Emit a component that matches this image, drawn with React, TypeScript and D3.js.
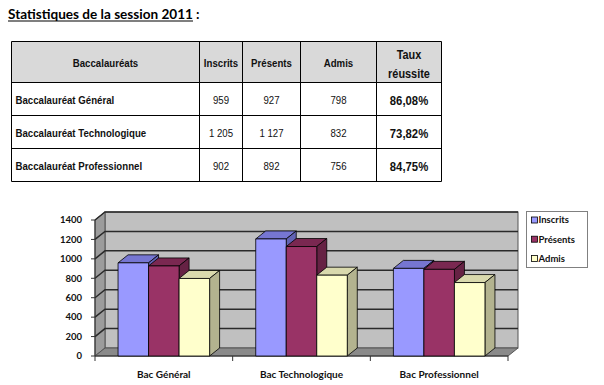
import * as d3 from 'd3';

const categories = ['Bac Général', 'Bac Technologique', 'Bac Professionnel'];
const rowLabels = ['Baccalauréat Général', 'Baccalauréat Technologique', 'Baccalauréat Professionnel'];
const seriesNames = ['Inscrits', 'Présents', 'Admis'];
const inscrits = [959, 1205, 902];
const presents = [927, 1127, 892];
const admis = [798, 832, 756];
const yTicks = [0, 200, 400, 600, 800, 1000, 1200, 1400];
const headers = ['Baccalauréats', 'Inscrits', 'Présents', 'Admis'];

const W = 604;
const H = 385;

const fr = d3.formatLocale({ decimal: ',', thousands: ' ', grouping: [3], currency: ['', ' €'] });
const fmtInt = fr.format(',d');
const fmtPct = fr.format('.2%');

const seriesColors = [
  { front: '#9999ff', top: '#7676d2', side: '#6262b4' },
  { front: '#993366', top: '#7a2851', side: '#662244' },
  { front: '#ffffcc', top: '#d9d9ad', side: '#b3b38f' },
];

// table layout
const colEdges = [11.5, 199.5, 242.5, 300.5, 376.5, 441.5];
const rowEdges = [41.5, 82.5, 115.5, 148.5, 181.5];
const SX = 0.84;

// chart layout
const DX = 10;
const DY = -8;
const plotLeft = 95;
const plotRight = 508;
const floorY = 356;
const topY = 220;

function Txt({ x, y, anchor = 'middle', size = 11.5, weight = 'normal', children }: any) {
  return (
    <text
      transform={`translate(${x},${y}) scale(${SX},1)`}
      textAnchor={anchor}
      fontFamily="'Liberation Sans', Arial, sans-serif"
      fontSize={size}
      fontWeight={weight}
      fill="#111"
    >
      {children}
    </text>
  );
}

function Table() {
  const cx = (i: number) => (colEdges[i] + colEdges[i + 1]) / 2;
  const cy = (i: number) => (rowEdges[i] + rowEdges[i + 1]) / 2;
  const rows = rowLabels.map((label, i) => ({
    label,
    values: [inscrits[i], presents[i], admis[i]],
    taux: admis[i] / presents[i],
  }));
  return (
    <g>
      <rect
        x={colEdges[0]}
        y={rowEdges[0]}
        width={colEdges[5] - colEdges[0]}
        height={rowEdges[1] - rowEdges[0]}
        fill="#d9d9d9"
      />
      {rowEdges.map((y, i) => (
        <line key={`h${i}`} x1={colEdges[0]} x2={colEdges[5]} y1={y} y2={y} stroke="#000" />
      ))}
      {colEdges.map((x, i) => (
        <line key={`v${i}`} x1={x} x2={x} y1={rowEdges[0]} y2={rowEdges[4]} stroke="#000" />
      ))}
      {headers.map((h, i) => (
        <Txt key={h} x={cx(i)} y={cy(0) + 5} weight="bold">
          {h}
        </Txt>
      ))}
      <Txt x={cx(4)} y={59} size={13} weight="bold">Taux</Txt>
      <Txt x={cx(4)} y={77.5} size={13} weight="bold">réussite</Txt>
      {rows.map((r, i) => (
        <g key={r.label}>
          <Txt x={colEdges[0] + 4} y={cy(i + 1) + 4.5} anchor="start" weight="bold">
            {r.label}
          </Txt>
          {r.values.map((v, j) => (
            <Txt key={j} x={cx(j + 1)} y={cy(i + 1) + 4.5}>
              {fmtInt(v)}
            </Txt>
          ))}
          <Txt x={cx(4)} y={cy(i + 1) + 5.5} size={13.5} weight="bold">
            {fmtPct(r.taux)}
          </Txt>
        </g>
      ))}
    </g>
  );
}

function Chart() {
  const y = d3.scaleLinear().domain([0, 1400]).range([floorY, topY]);
  const x = d3.scaleBand<string>().domain(categories).range([plotLeft, plotRight]);
  const groupW = x.bandwidth() * 0.665;
  const sub = d3
    .scaleBand<string>()
    .domain(seriesNames)
    .range([(x.bandwidth() - groupW) / 2, (x.bandwidth() + groupW) / 2]);
  const data = [inscrits, presents, admis];
  const font = "Lato, 'Open Sans', sans-serif";
  const pts = (p: number[][]) => p.map((d) => d.join(',')).join(' ');

  const bars: any[] = [];
  categories.forEach((c, ci) => {
    seriesNames.forEach((s, si) => {
      const x0 = (x(c) ?? 0) + (sub(s) ?? 0);
      const x1 = x0 + sub.bandwidth();
      const y0 = y(data[si][ci]);
      const col = seriesColors[si];
      bars.push(
        <g key={`${c}-${s}`} stroke="#000" strokeWidth={0.8} strokeLinejoin="round">
          <polygon
            points={pts([[x0, y0], [x0 + DX, y0 + DY], [x1 + DX, y0 + DY], [x1, y0]])}
            fill={col.top}
          />
          <polygon
            points={pts([[x1, y0], [x1 + DX, y0 + DY], [x1 + DX, floorY + DY], [x1, floorY]])}
            fill={col.side}
          />
          <rect x={x0} y={y0} width={x1 - x0} height={floorY - y0} fill={col.front} />
        </g>,
      );
    });
  });

  return (
    <g>
      {/* back wall */}
      <rect
        x={plotLeft + DX}
        y={topY + DY}
        width={plotRight - plotLeft}
        height={floorY - topY}
        fill="#c0c0c0"
        stroke="#555"
        strokeWidth={1}
      />
      {/* left wall */}
      <polygon
        points={pts([[plotLeft, topY], [plotLeft + DX, topY + DY], [plotLeft + DX, floorY + DY], [plotLeft, floorY]])}
        fill="#9c9c9c"
        stroke="#555"
        strokeWidth={1}
      />
      {/* floor */}
      <polygon
        points={pts([[plotLeft, floorY], [plotLeft + DX, floorY + DY], [plotRight + DX, floorY + DY], [plotRight, floorY]])}
        fill="#8a8a8a"
        stroke="#555"
        strokeWidth={1}
      />
      {yTicks.slice(1).map((t) => (
        <polyline
          key={t}
          points={pts([[plotLeft, y(t)], [plotLeft + DX, y(t) + DY], [plotRight + DX, y(t) + DY]])}
          fill="none"
          stroke="#2a2a2a"
          strokeWidth={1.5}
        />
      ))}
      {/* axes */}
      <line x1={plotLeft} x2={plotLeft} y1={topY} y2={floorY} stroke="#333" />
      <line x1={plotLeft} x2={plotRight} y1={floorY} y2={floorY} stroke="#333" />
      {yTicks.map((t) => (
        <g key={t}>
          <line x1={plotLeft - 4} x2={plotLeft} y1={y(t)} y2={y(t)} stroke="#333" />
          <text
            x={82}
            y={y(t)}
            dy="0.35em"
            textAnchor="end"
            fontFamily={font}
            fontWeight="bold"
            fontSize={9.5}
            fill="#111"
          >
            {t}
          </text>
        </g>
      ))}
      {[...categories.map((c) => x(c) ?? 0), plotRight].map((v, i) => (
        <line key={i} x1={v} x2={v} y1={floorY} y2={floorY + 5} stroke="#333" />
      ))}
      {bars}
      {categories.map((c) => (
        <text
          key={c}
          x={(x(c) ?? 0) + x.bandwidth() / 2}
          y={378}
          textAnchor="middle"
          fontFamily={font}
          fontWeight="bold"
          fontSize={10}
          fill="#111"
        >
          {c}
        </text>
      ))}
      {/* legend */}
      <rect x={526.5} y={211.5} width={61} height={56} fill="#fff" stroke="#808080" />
      {seriesNames.map((s, i) => {
        const ly = 220 + i * 19.2;
        return (
          <g key={s}>
            <rect x={531.5} y={ly - 3} width={6} height={6} fill={seriesColors[i].front} stroke="#000" strokeWidth={0.8} />
            <text
              x={538.5}
              y={ly}
              dy="0.35em"
              fontFamily={font}
              fontWeight="bold"
              fontSize={9.5}
              fill="#111"
            >
              {s}
            </text>
          </g>
        );
      })}
    </g>
  );
}

export default function App() {
  return (
    <svg
      width={W}
      height={H}
      viewBox={`0 0 ${W} ${H}`}
      style={{ position: 'absolute', left: 0, top: 0, background: '#fff' }}
    >
      <text
        x={8}
        y={18.5}
        fontFamily="Lato, 'Open Sans', sans-serif"
        fontWeight="bold"
        fontSize={13.5}
        fill="#000"
        textLength={185}
        lengthAdjust="spacingAndGlyphs"
      >
        Statistiques de la session 2011
      </text>
      <line x1={8} x2={193} y1={21} y2={21} stroke="#000" strokeWidth={1.1} />
      <text x={196} y={18.5} fontFamily="Lato, 'Open Sans', sans-serif" fontWeight="bold" fontSize={13.5}>
        :
      </text>
      <Table />
      <Chart />
    </svg>
  );
}
